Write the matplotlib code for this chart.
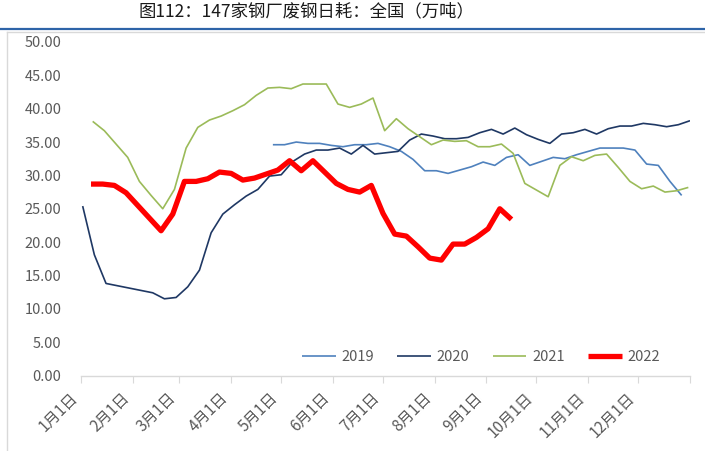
import matplotlib
matplotlib.use("Agg")
import matplotlib.pyplot as plt
import matplotlib.transforms as mtransforms
import numpy as np
import pandas as pd
from matplotlib.lines import Line2D

plt.rcParams['font.family'] = ['Noto Sans CJK SC', 'DejaVu Sans']

title = "图112：147家钢厂废钢日耗：全国（万吨）"
month_labels = ["1月1日", "2月1日", "3月1日", "4月1日", "5月1日", "6月1日",
                "7月1日", "8月1日", "9月1日", "10月1日", "11月1日", "12月1日"]
series_names = ["2019", "2020", "2021", "2022"]
series_starts = ["2019-04-26", "2020-01-02", "2021-01-08", "2022-01-07"]

v2019 = [34.6, 34.6, 35.0, 34.8, 34.8, 34.5, 34.3, 34.6, 34.6, 34.8,
         34.3, 33.6, 32.4, 30.7, 30.7, 30.3, 30.8, 31.3, 32.0, 31.5,
         32.7, 33.1, 31.5, 32.1, 32.7, 32.5, 33.1, 33.6, 34.1, 34.1,
         34.1, 33.8, 31.7, 31.5, 29.1, 27.0]
v2020 = [25.4, 18.1, 13.8, np.nan, np.nan, np.nan, 12.4, 11.5, 11.7, 13.3,
         15.8, 21.4, 24.2, 25.6, 26.9, 27.9, 29.9, 30.1, 32.1, 33.2,
         33.8, 33.8, 34.1, 33.2, 34.5, 33.2, 33.4, 33.6, 35.3, 36.2,
         35.9, 35.5, 35.5, 35.7, 36.4, 36.9, 36.2, 37.1, 36.1, 35.4,
         34.8, 36.2, 36.4, 36.9, 36.2, 37.0, 37.4, 37.4, 37.8, 37.6,
         37.3, 37.6, 38.2]
v2021 = [38.1, 36.7, 34.7, 32.7, 29.1, 27.0, 25.0, 27.9, 34.1, 37.2,
         38.3, 38.9, 39.7, 40.6, 42.0, 43.1, 43.2, 43.0, 43.7, 43.7,
         43.7, 40.7, 40.2, 40.7, 41.6, 36.7, 38.5, 37.0, 35.8, 34.6,
         35.3, 35.1, 35.2, 34.3, 34.3, 34.7, 33.3, 28.8, np.nan, 26.8,
         31.5, 32.8, 32.2, 33.0, 33.2, 31.2, 29.1, 28.0, 28.4, 27.5,
         27.7, 28.2]
v2022 = [28.7, 28.7, 28.5, 27.4, 25.5, 23.6, 21.7, 24.2, 29.1, 29.1,
         29.5, 30.5, 30.3, 29.3, 29.6, 30.2, 30.8, 32.2, 30.7, 32.2,
         30.5, 28.8, 27.9, 27.5, 28.5, 24.3, 21.2, 20.9, 19.3, 17.6,
         17.3, 19.7, 19.7, 20.7, 22.0, 25.0, 23.4]

series_values = [v2019, v2020, v2021, v2022]
colors = ["#4F81BD", "#1F3864", "#9BBB59", "#FF0000"]
widths = [1.2, 1.2, 1.2, 3.8]

fig = plt.figure(figsize=(7.05, 4.51), dpi=100)
W, H = 705, 451
ax = fig.add_axes([81 / W, (H - 375.5) / H, (690 - 81) / W, (375.5 - 42) / H])

for name, start, vals, c, lw in zip(series_names, series_starts, series_values, colors, widths):
    dates = pd.date_range(start, periods=len(vals), freq="7D")
    jan1 = pd.Timestamp(year=dates[0].year, month=1, day=1)
    doy = np.array([(d - jan1).days for d in dates], dtype=float)
    y = np.array(vals, dtype=float)
    m = ~np.isnan(y)
    ax.plot(doy[m], y[m], color=c, lw=lw, label=name, solid_capstyle='butt',
            zorder=5 if name == "2022" else 3)

month_starts = [0, 31, 59, 90, 120, 151, 181, 212, 243, 273, 304, 334, 365]
ax.set_xlim(0, 365)
ax.set_ylim(0, 50)
ax.set_xticks(month_starts)
ax.set_xticklabels(month_labels + [""], rotation=45, ha='right', va='top',
                   fontsize=11, color='#595959')
offset = mtransforms.ScaledTranslation(5 / 100, 0, fig.dpi_scale_trans)
for lab in ax.get_xticklabels():
    lab.set_transform(lab.get_transform() + offset)
ax.set_yticks(np.arange(0, 50.1, 5))
ax.set_yticklabels([f"{v:.2f}" for v in np.arange(0, 50.1, 5)], fontsize=10.5, color='#595959')
ax.tick_params(axis='y', length=0, pad=14)
ax.tick_params(axis='x', length=5, color='#D9D9D9', pad=5)
for s in ['left', 'right', 'top']:
    ax.spines[s].set_visible(False)
ax.spines['bottom'].set_color('#D9D9D9')
ax.spines['bottom'].set_linewidth(1.0)

leg = ax.legend(loc='center', bbox_to_anchor=(0.657, 0.055), ncol=4, frameon=False,
                fontsize=10.5, handlelength=2.3, handletextpad=0.4, columnspacing=1.6)
for t in leg.get_texts():
    t.set_color('#595959')

fig.text(306 / W, 1 - 11 / H, title, ha='center', va='center', fontsize=12.5, color='#1a1a1a')
fig.add_artist(Line2D([0, 1], [1 - 28.7 / H, 1 - 28.7 / H], color='#2E64A8', lw=1.6, transform=fig.transFigure))
fig.add_artist(Line2D([7 / W, 1], [1 - 31.5 / H, 1 - 31.5 / H], color='#D9D9D9', lw=1.0, transform=fig.transFigure))
fig.add_artist(Line2D([7 / W, 7 / W], [1 - 31.5 / H, 0], color='#D9D9D9', lw=1.0, transform=fig.transFigure))

fig.savefig("out.png", dpi=100)
